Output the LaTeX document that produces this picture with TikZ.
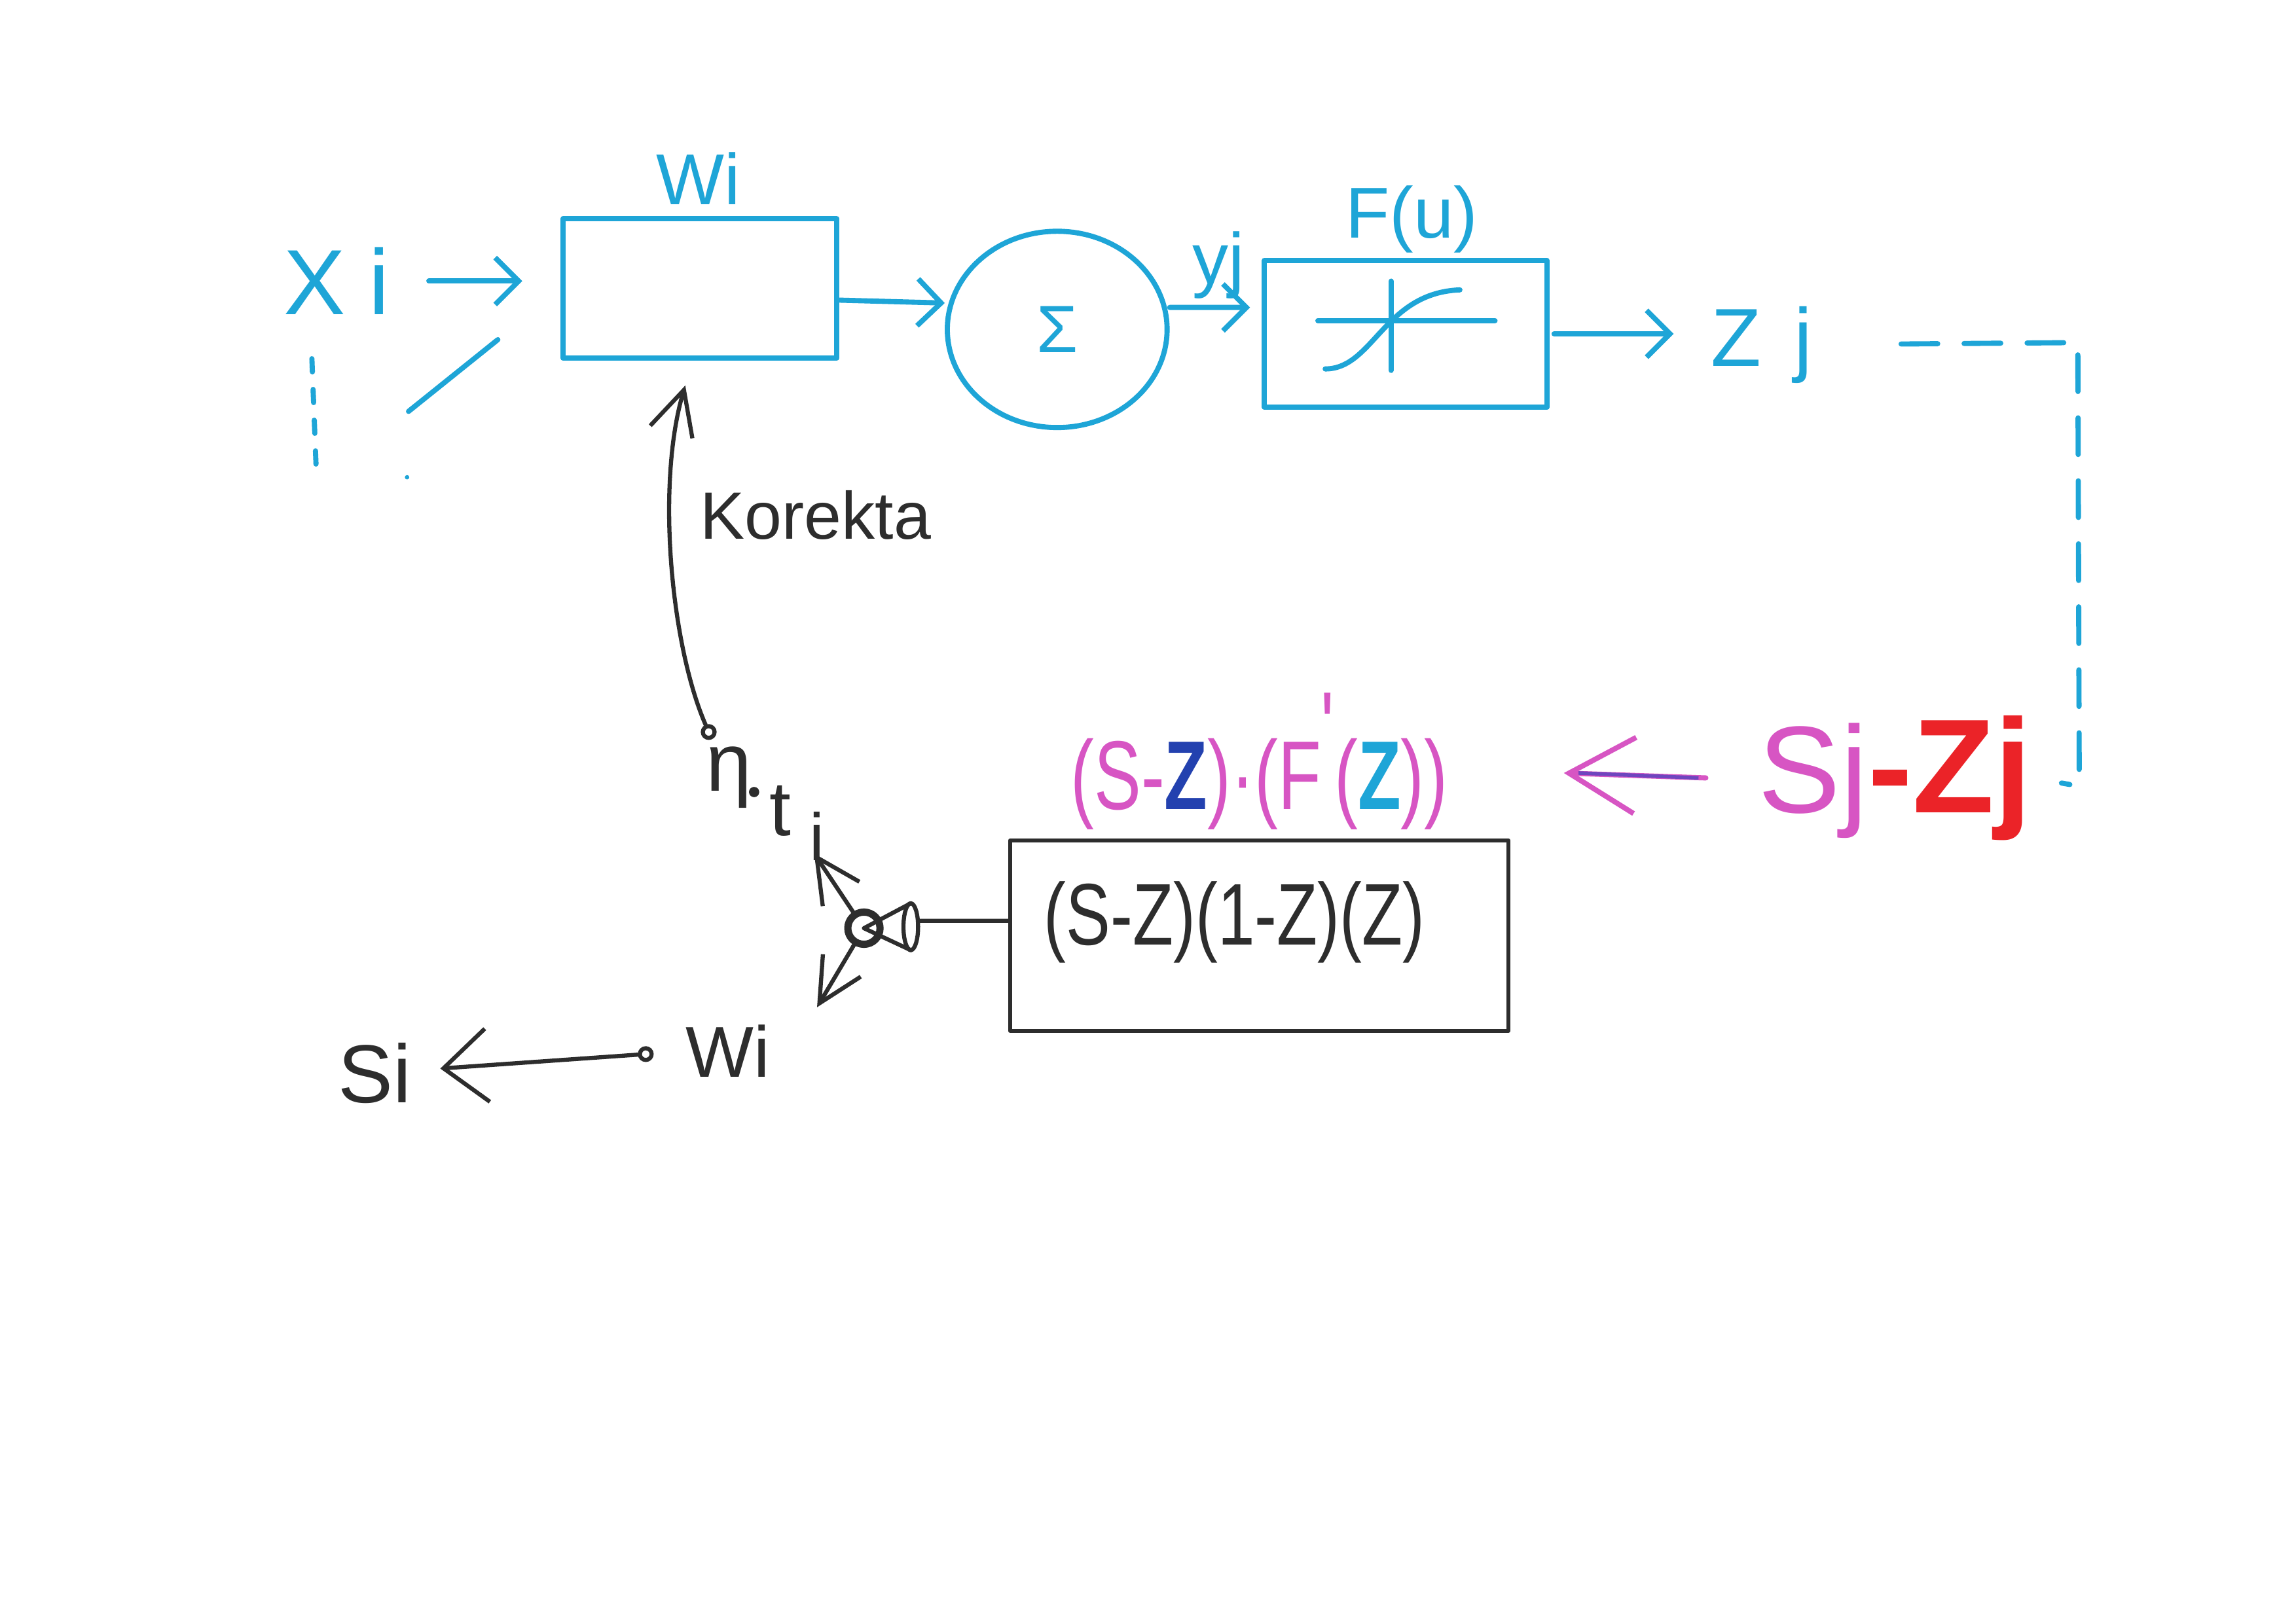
\documentclass[tikz,border=0pt]{standalone}
\usepackage{fontspec}
\usepackage{graphicx}
\setmainfont{Liberation Sans}
\usetikzlibrary{arrows.meta,shapes.geometric}
\definecolor{cyanink}{RGB}{30,165,215}
\definecolor{blackink}{RGB}{45,45,45}
\definecolor{magink}{RGB}{215,85,195}
\definecolor{redink}{RGB}{235,35,40}
\definecolor{blueink}{RGB}{35,65,175}
\definecolor{violetink}{RGB}{110,70,190}
\newcommand\fsz[1]{\fontsize{#1}{#1}\selectfont}
\begin{document}
\begin{tikzpicture}[x=0.01cm,y=-0.01cm,
  cy/.style={draw=cyanink, line width=1pt, line cap=round, line join=round},
  bk/.style={draw=blackink, line width=0.8pt, line cap=round, line join=round},
  cytxt/.style={text=cyanink, inner sep=0pt},
  bktxt/.style={text=blackink, inner sep=0pt},
  cyarr/.style={cy, -{Straight Barb[length=1.6mm,width=3.2mm]}},
  bkarr/.style={bk, -{Straight Barb[length=3mm,width=3mm]}},
  magarr/.style={draw=magink, line width=1pt, line cap=round, -{Straight Barb[length=4.5mm,width=5.2mm]}},
  dashy/.style={cy, dash pattern=on 0.25cm off 0.18cm}
]
\fill[white] (0,0) rectangle (1568,1109);
\useasboundingbox (0,0) rectangle (1568,1109);

% ---------- top row (cyan) ----------
\node[cytxt, font=\fsz{18}] (xi) at (230,192) {X\hspace{0.16cm}i};
\node[cytxt, font=\fsz{14}] (wlab) at (477,122) {Wi};
\node[cy, rectangle, minimum width=1.87cm, minimum height=0.95cm] (wbox) at (478,197) {};
\node[cy, ellipse, minimum width=1.5cm, minimum height=1.34cm, text=cyanink, font=\fsz{13}, inner sep=0pt] (sig) at (722,225) {Σ};
\node[cytxt, font=\fsz{14}] (yj) at (832,181) {yj};
\node[cytxt, font=\fsz{14}] (flab) at (964,150) {F(u)};
\node[cy, rectangle, minimum width=1.93cm, minimum height=1cm] (fbox) at (960,228) {};
\node[cytxt, font=\fsz{16}, anchor=base west] (zj) at (1168,250) {Z\hspace{0.22cm}j};

% sigmoid inside F box
\draw[cy] (900,219) -- (1021,219);
\draw[cy] (950,192) -- (950,253);
\draw[cy] (905,252) .. controls (938,252) and (945,200) .. (997,198);

% extra inputs on the left
\coordinate (d1) at (213,245);
\coordinate (d2) at (216,322);
\draw[cy, dash pattern=on 0.09cm off 0.12cm] (d1) -- (d2);
\coordinate (l1) at (279,281);
\coordinate (l2) at (340,232);
\draw[cy] (l1) -- (l2);
\fill[cyanink] (278,326) circle[radius=0.015cm];

% top arrows
\draw[cyarr, shorten <=0.26cm, shorten >=0.26cm] (xi.east) -- (xi.east -| wbox.west);
\draw[cyarr] ([yshift=-0.08cm]wbox.east) -- ([yshift=0.18cm]sig.west);
\draw[cyarr, shorten >=0.08cm] ([yshift=0.15cm]sig.east) -- ([yshift=0.18cm]fbox.west);
\draw[cyarr, shorten <=0.03cm, shorten >=0.25cm] (fbox.east) -- (fbox.east -| zj.west);

% ---------- error term ----------
\node[inner sep=0pt, anchor=base west] (sjz) at (1200,555) {{\fsz{24}\color{magink}Sj}{\fsz{26}\color{redink}\bfseries -Zj}};

% dashed feedback
\coordinate (dc1) at (1419,234);
\coordinate (dc2) at (1420,537);
\draw[dashy, shorten <=0.6cm, shorten >=0.2cm] (zj.east) -- (dc1) -- (dc2) -- (sjz.east);

% magenta arrow
\coordinate (mtip) at (1068,528);
\draw[magarr] ([xshift=-0.35cm]sjz.west) -- (mtip);
\draw[draw=violetink, line width=0.7pt] ([xshift=-0.4cm]sjz.west) -- ([xshift=0.1cm]mtip);

% magenta label
\node[inner sep=0pt, font=\fsz{19}, text=magink] (mlab) at (860,520)
  {\scalebox{0.72}[1]{(S-{\color{blueink}\bfseries Z})·(F\raisebox{0.5em}{\textquotesingle}({\color{cyanink}\bfseries Z}))}};

% ---------- bottom block (black) ----------
\node[bk, rectangle, minimum width=3.4cm, minimum height=1.3cm] (bbox) at (860,639) {};
\node[bktxt, font=\fsz{17}] (btxt) at (843,630) {\scalebox{0.76}[1]{(S-Z)(1-Z)(Z)}};

% junction symbol
\node[bk, circle, line width=1.4pt, minimum size=0.22cm, inner sep=0pt] (jn) at (590,634) {};
\draw[bk] (jn.center) -- (622,617) (jn.center) -- (622,649);
\draw[bk] (622,633) ellipse[x radius=0.05cm, y radius=0.16cm];
\draw[bk] ([xshift=0.25cm, yshift=0.05cm]jn.east) -- ([yshift=0.1cm]bbox.west);

\coordinate (jup) at (556,583);
\coordinate (jdn) at (558,688);
\draw[bkarr] (jn) -- (jup);
\draw[bkarr] (jn) -- (jdn);

% correction path
\node[bk, circle, inner sep=0pt, minimum size=0.08cm] (kc) at (484,500) {};
\draw[bkarr] (kc) .. controls (458,440) and (448,330) .. ([xshift=-0.1cm, yshift=-0.17cm]wbox.south);
\node[bktxt, font=\fsz{13}] (kor) at (557,352) {Korekta};
\node[bktxt, font=\fsz{16}] (eta) at (498,531) {η};
\fill[blackink] (515,541) circle[radius=0.035cm];
\node[bktxt, font=\fsz{15}] (etat) at (533,554) {t};
\node[bktxt, font=\fsz{13}] (etai) at (558,571) {i};

% bottom left
\node[bktxt, font=\fsz{16}] (si) at (256,733) {Si};
\node[bk, circle, inner sep=0pt, minimum size=0.08cm] (wc) at (441,720) {};
\node[bktxt, font=\fsz{14}] (wi2) at (497,718) {Wi};
\draw[bkarr, -{Straight Barb[length=3mm,width=5mm]}, shorten >=0.19cm] (wc) -- (si);
\end{tikzpicture}
\end{document}
